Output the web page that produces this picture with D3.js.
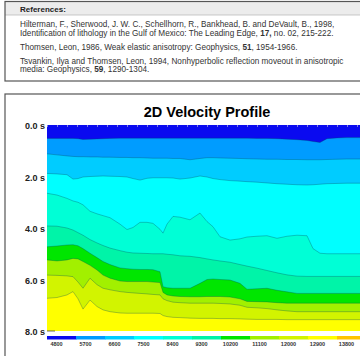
<!DOCTYPE html>
<html>
<head>
<meta charset="utf-8">
<script src="https://cdn.jsdelivr.net/npm/d3@7/dist/d3.min.js"></script>
<style>
  body { margin: 0; background: #fff; }
  svg { display: block; font-family: "Liberation Sans", Arial, sans-serif; }
</style>
</head>
<body>
<svg id="chart"></svg>
<script>
// trace positions along the line (shared by every contour)
var traces = [0,10,20,26,31,36,43,50,56,63,73,80,86,93,100,106,113,116,120,126,133,143,153,160,166,173,183,193,200,210,220,230,240,250,260,266,273,280,290,300,310,320]

// contour boundaries, two-way time in seconds, top to bottom
var c4800 = [0.52,0.52,0.52,0.52,0.53,0.56,0.55,0.54,0.53,0.52,0.51,0.51,0.51,0.51,0.51,0.51,0.51,0.51,0.51,0.51,0.51,0.51,0.51,0.51,0.51,0.51,0.51,0.51,0.51,0.52,0.52,0.53,0.55,0.57,0.60,0.64,0.68,0.53,0.50,0.49,0.49,0.49]
var c5700 = [1.12,1.16,1.20,1.22,1.23,1.23,1.24,1.24,1.25,1.25,1.26,1.26,1.27,1.27,1.28,1.29,1.29,1.29,1.29,1.30,1.30,1.35,1.30,1.27,1.27,1.28,1.29,1.30,1.31,1.32,1.33,1.33,1.34,1.34,1.35,1.35,1.35,1.34,1.33,1.32,1.32,1.32]
var c6600 = [1.88,1.90,1.93,2.10,2.08,2.02,2.00,1.99,1.98,1.99,2.00,2.02,2.08,2.14,2.07,2.05,2.05,2.05,2.05,2.06,2.10,2.06,1.98,2.02,2.08,2.12,2.16,2.18,2.20,2.22,2.25,2.28,2.30,2.32,2.33,2.32,2.30,2.28,2.27,2.26,2.26,2.26]
var c7500 = [2.65,2.72,2.85,2.95,3.00,3.10,3.35,3.45,3.52,3.60,3.85,4.06,3.98,3.78,3.78,3.82,4.05,4.20,3.85,3.55,3.58,3.68,3.42,3.75,3.95,4.34,4.47,4.42,4.35,4.32,4.30,4.40,4.32,4.28,4.30,4.80,4.98,5.00,5.00,5.00,5.00,5.00]
var c8400 = [3.92,3.93,4.00,4.08,4.18,4.28,4.45,4.58,4.68,4.78,4.88,4.94,4.97,4.98,4.99,5.00,5.00,5.00,5.02,5.04,5.08,5.10,5.15,5.20,5.24,5.28,5.33,5.42,5.48,5.56,5.65,5.74,5.82,5.87,5.88,5.88,5.88,5.88,5.88,5.88,5.88,5.88]
var c9300 = [4.73,4.70,4.66,4.65,4.69,4.80,4.98,5.15,5.30,5.42,5.55,5.58,5.60,5.61,5.61,5.62,5.70,6.28,6.32,6.34,6.34,6.34,6.15,6.00,5.98,6.00,6.02,6.15,6.38,6.36,6.34,6.42,6.48,6.54,6.54,6.54,6.54,6.54,6.54,6.54,6.54,6.54]
var c10200 = [5.24,5.28,5.24,5.18,5.20,5.30,5.45,5.63,5.83,5.95,6.06,6.08,6.08,6.08,6.08,6.10,6.12,6.50,6.60,6.64,6.66,6.67,6.67,6.66,6.66,6.66,6.68,6.75,6.85,6.86,6.87,6.90,6.92,6.92,6.92,6.92,6.92,6.92,6.92,6.92,6.92,6.92]
var c11100 = [5.83,5.84,5.86,5.89,6.10,6.34,5.95,6.20,6.34,6.40,6.47,6.50,6.52,6.54,6.56,6.58,6.60,6.75,6.82,6.88,6.90,6.92,6.92,6.92,6.92,6.93,6.95,7.00,7.08,7.10,7.13,7.18,7.22,7.25,7.25,7.25,7.25,7.25,7.25,7.25,7.25,7.25]
var c12000 = [6.73,6.70,6.60,6.47,6.75,7.15,6.80,7.05,7.18,7.25,7.30,7.31,7.31,7.31,7.31,7.31,7.32,7.40,7.44,7.47,7.48,7.50,7.51,7.51,7.51,7.52,7.52,7.53,7.54,7.55,7.55,7.55,7.56,7.56,7.56,7.56,7.56,7.56,7.56,7.56,7.56,7.56]

var contours = [c4800, c5700, c6600, c7500, c8400, c9300, c10200, c11100, c12000]

// velocity legend
var velocities = [4800, 5700, 6600, 7500, 8400, 9300, 10200, 11100, 12000, 12900, 13800]
var velocityColors = ["#0a0af0", "#009cff", "#00ccff", "#00ffff", "#00ffd6", "#00f4a8", "#00e600", "#a2f000", "#d2f400", "#ffff00", "#ffc400"]

var timeTicks = [0, 2, 4, 6, 8]

var references = [
    [["Hilterman, F., Sherwood, J. W. C., Schellhorn, R., Bankhead, B. and DeVault, B., 1998,", false]],
    [["Identification of lithology in the Gulf of Mexico: The Leading Edge, ", false], ["17,", true], [" no. 02, 215-222.", false]],
    [["Thomsen, Leon, 1986, Weak elastic anisotropy: Geophysics, ", false], ["51", true], [", 1954-1966.", false]],
    [["Tsvankin, Ilya and Thomsen, Leon, 1994, Nonhyperbolic reflection moveout in anisotropic", false]],
    [["media: Geophysics, ", false], ["59", true], [", 1290-1304.", false]]
]
var refLineY = [27, 35.5, 49.5, 63.5, 72]

var dimensions = {
    width: 360,
    height: 356,
    plot: { left: 47, right: 367, top: 125, bottom: 331 }
}

var svg = d3.select("#chart")
            .attr("width", dimensions.width)
            .attr("height", dimensions.height)

// references box
svg.append("rect")
   .attr("x", 5).attr("y", 1.5)
   .attr("width", 370).attr("height", 13.5)
   .attr("fill", "#ececec")
svg.append("line")
   .attr("x1", 5).attr("x2", 375).attr("y1", 15).attr("y2", 15)
   .attr("stroke", "#bbb").attr("stroke-width", 0.8)
svg.append("rect")
   .attr("x", 5).attr("y", 1.5)
   .attr("width", 370).attr("height", 79.5)
   .attr("fill", "none")
   .attr("stroke", "#555").attr("stroke-width", 1.2)

svg.append("text")
   .attr("x", 20).attr("y", 11.5)
   .attr("font-size", "8px").attr("font-weight", "bold")
   .attr("fill", "#222")
   .text("References:")

var refText = svg.append("g")
                 .attr("font-size", "8.2px")
                 .attr("fill", "#333")

references.forEach((line, i) => {
    var t = refText.append("text").attr("x", 20).attr("y", refLineY[i])
    line.forEach(seg => {
        t.append("tspan")
         .attr("font-weight", seg[1] ? "bold" : "normal")
         .text(seg[0])
    })
})

// chart box
svg.append("rect")
   .attr("x", 5).attr("y", 94)
   .attr("width", 370).attr("height", 300)
   .attr("fill", "none")
   .attr("stroke", "#555").attr("stroke-width", 1.2)

svg.append("text")
   .attr("x", (dimensions.plot.left + dimensions.plot.right) / 2)
   .attr("y", 117)
   .attr("text-anchor", "middle")
   .attr("font-size", "14.5px").attr("font-weight", "bold")
   .attr("fill", "#000")
   .text("2D Velocity Profile")

var xScale = d3.scaleLinear()
               .domain([0, 320])
               .range([dimensions.plot.left, dimensions.plot.right])

var yScale = d3.scaleLinear()
               .domain([0, 8])
               .range([dimensions.plot.top, dimensions.plot.bottom])

svg.append("clipPath").attr("id", "plotClip")
   .append("rect")
   .attr("x", dimensions.plot.left).attr("y", dimensions.plot.top)
   .attr("width", dimensions.plot.right - dimensions.plot.left)
   .attr("height", dimensions.plot.bottom - dimensions.plot.top)

var plot = svg.append("g").attr("clip-path", "url(#plotClip)")

plot.append("rect")
    .attr("x", xScale(0)).attr("y", yScale(0))
    .attr("width", xScale(320) - xScale(0))
    .attr("height", yScale(8) - yScale(0))
    .attr("fill", velocityColors[0])

var areaGen = d3.area()
                .x((d, i) => xScale(traces[i]))
                .y0(yScale(8))
                .y1(d => yScale(d))

var lineGen = d3.line()
                .x((d, i) => xScale(traces[i]))
                .y(d => yScale(d))

plot.selectAll("path.band")
    .data(contours)
    .enter()
    .append("path")
    .attr("class", "band")
    .attr("d", areaGen)
    .attr("fill", (d, i) => velocityColors[i + 1])

plot.selectAll("path.contour")
    .data(contours)
    .enter()
    .append("path")
    .attr("class", "contour")
    .attr("d", lineGen)
    .attr("fill", "none")
    .attr("stroke", "rgba(0,70,90,0.45)")
    .attr("stroke-width", 0.7)

// small trace ticks along the top edge
var topAxis = svg.append("g")
                 .attr("transform", `translate(0,${dimensions.plot.top})`)
                 .call(d3.axisBottom(xScale).tickValues(d3.range(0, 321, 10)).tickSize(2).tickFormat(""))
topAxis.select(".domain").remove()
topAxis.selectAll("line").attr("stroke", "#9a9ad8").attr("stroke-width", 0.8)

// short mark at the base of the time axis
svg.append("line")
   .attr("x1", xScale(0)).attr("x2", xScale(8))
   .attr("y1", yScale(8)).attr("y2", yScale(8))
   .attr("stroke", "#444").attr("stroke-width", 0.8)

// time axis
var yAxis = svg.append("g")
               .attr("transform", `translate(${dimensions.plot.left - 1},1)`)
               .call(d3.axisLeft(yScale).tickValues(timeTicks).tickSize(0).tickPadding(1).tickFormat(d => d3.format(".1f")(d) + " s"))
yAxis.select(".domain").remove()
yAxis.selectAll("text")
     .attr("font-family", "Liberation Sans, Arial, sans-serif")
     .attr("font-size", "9px").attr("font-weight", "bold")
     .attr("fill", "#222")

// velocity colour bar
var cbScale = d3.scaleBand()
                .domain(velocities)
                .range([dimensions.plot.left, 366])

svg.append("g")
   .selectAll("rect")
   .data(velocities)
   .enter()
   .append("rect")
   .attr("x", d => cbScale(d))
   .attr("y", 336)
   .attr("width", cbScale.bandwidth() + 0.5)
   .attr("height", 3.5)
   .attr("fill", (d, i) => velocityColors[i])

var cbAxis = svg.append("g")
                .attr("transform", `translate(-5,341)`)
                .call(d3.axisBottom(cbScale).tickSize(0).tickPadding(1))
cbAxis.select(".domain").remove()
cbAxis.selectAll("text")
      .attr("font-family", "Liberation Sans, Arial, sans-serif")
      .attr("font-size", "5.5px").attr("font-weight", "bold")
      .attr("fill", "#333")
</script>
</body>
</html>
